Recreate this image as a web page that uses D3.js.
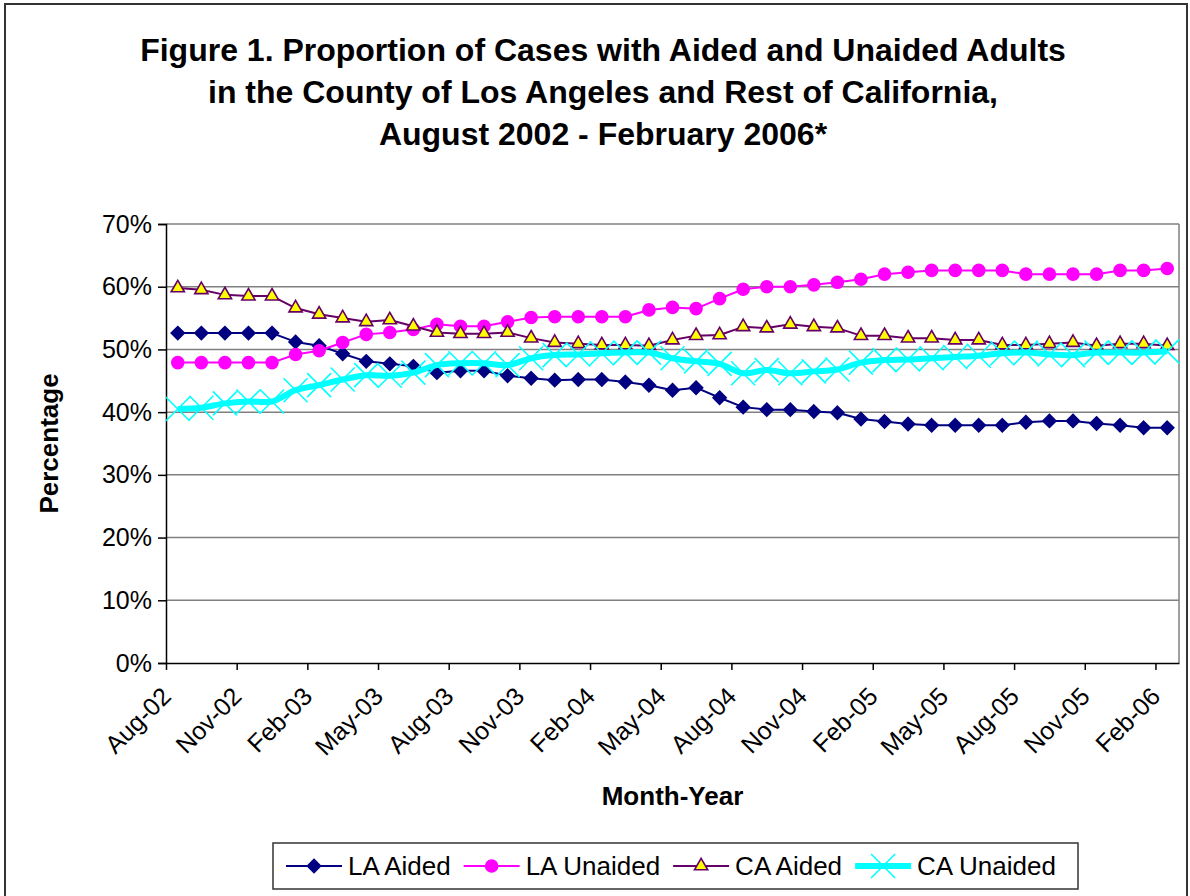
<!DOCTYPE html>
<html>
<head>
<meta charset="utf-8">
<script src="https://cdn.jsdelivr.net/npm/d3@7"></script>
<style>
  body { margin: 0; background: #fff; }
  text { font-family: Arial, "Liberation Sans", sans-serif; }
</style>
</head>
<body>
<div id="chart"></div>
<script>
// month labels, one per category
const months = [
  "Aug-02","Sep-02","Oct-02","Nov-02","Dec-02","Jan-03","Feb-03","Mar-03","Apr-03","May-03",
  "Jun-03","Jul-03","Aug-03","Sep-03","Oct-03","Nov-03","Dec-03","Jan-04","Feb-04","Mar-04",
  "Apr-04","May-04","Jun-04","Jul-04","Aug-04","Sep-04","Oct-04","Nov-04","Dec-04","Jan-05",
  "Feb-05","Mar-05","Apr-05","May-05","Jun-05","Jul-05","Aug-05","Sep-05","Oct-05","Nov-05",
  "Dec-05","Jan-06","Feb-06"
];

// values in percent
const laAided = [52.6,52.6,52.6,52.6,52.6,51.2,50.6,49.3,48.1,47.7,47.3,46.3,46.6,46.6,45.8,
  45.4,45.1,45.2,45.2,44.8,44.3,43.5,43.9,42.3,40.8,40.4,40.4,40.1,39.9,38.9,
  38.5,38.1,37.9,37.9,37.9,37.9,38.4,38.6,38.6,38.2,37.9,37.5,37.5];
const laUnaided = [47.9,47.9,47.9,47.9,47.9,49.2,49.8,51.1,52.4,52.7,53.2,54.0,53.7,53.7,54.4,
  55.1,55.2,55.2,55.2,55.2,56.3,56.7,56.5,58.1,59.6,60.0,60.0,60.3,60.7,61.2,
  62.0,62.3,62.6,62.6,62.6,62.6,62.0,62.0,62.0,62.0,62.6,62.6,62.9];
const caAided = [59.8,59.5,58.7,58.5,58.5,56.6,55.6,55.0,54.4,54.7,53.7,52.7,52.5,52.5,52.7,
  51.8,51.1,50.9,50.7,50.7,50.6,51.5,52.2,52.3,53.6,53.4,54.0,53.6,53.4,52.2,
  52.2,51.8,51.8,51.5,51.5,50.7,50.7,50.9,51.1,50.6,50.9,50.9,50.6];
const caUnaided = [40.5,40.7,41.4,41.7,41.7,43.5,44.3,45.2,45.9,45.8,46.3,47.5,47.8,47.8,47.5,
  48.6,49.1,49.2,49.4,49.5,49.5,48.6,48.1,47.7,46.2,46.7,46.2,46.5,46.8,47.9,
  48.3,48.4,48.6,48.8,49.0,49.4,49.5,49.2,49.1,49.5,49.5,49.5,49.7];

const seriesNames = ["LA Aided", "LA Unaided", "CA Aided", "CA Unaided"];
const yTicks = [0, 10, 20, 30, 40, 50, 60, 70];
const titleLines = [
  "Figure 1. Proportion of Cases with Aided and Unaided Adults",
  "in the County of Los Angeles and Rest of California,",
  "August 2002 - February 2006*"
];

const W = 1190, H = 896;
const plot = {left: 166, right: 1179, top: 224, bottom: 663};

const svg = d3.select("#chart").append("svg")
  .attr("width", W).attr("height", H);

// outer chart border
svg.append("rect")
  .attr("x", 5).attr("y", 4)
  .attr("width", 1182).attr("height", 900)
  .attr("fill", "none").attr("stroke", "#333").attr("stroke-width", 2);

// title
svg.append("g").selectAll("text")
  .data(titleLines).enter().append("text")
  .attr("x", 603).attr("y", (d, i) => 61 + i * 42)
  .attr("text-anchor", "middle")
  .attr("font-size", 32).attr("font-weight", "bold")
  .text(d => d);

// scales: x by category index, categories sit between tick marks
const x = d3.scaleLinear().domain([0, months.length]).range([plot.left, plot.right]);
const y = d3.scaleLinear().domain([0, 70]).range([plot.bottom, plot.top]);
const cx = i => x(i + 0.5);

// gridlines
svg.append("g").selectAll("line")
  .data(yTicks.filter(t => t > 0)).enter().append("line")
  .attr("x1", plot.left).attr("x2", plot.right)
  .attr("y1", d => y(d)).attr("y2", d => y(d))
  .attr("stroke", "#808080").attr("stroke-width", 1.5);

// right border of plot area
svg.append("line")
  .attr("x1", plot.right).attr("x2", plot.right)
  .attr("y1", plot.top).attr("y2", plot.bottom)
  .attr("stroke", "#808080").attr("stroke-width", 1.5);

// y axis
const yAxis = svg.append("g")
  .attr("transform", `translate(${plot.left},0)`)
  .call(d3.axisLeft(y).tickValues(yTicks).tickSize(8).tickPadding(6).tickFormat(d => d + "%"));
yAxis.selectAll("text").attr("font-size", 25).attr("fill", "#000")
  .style("font-family", "Arial, 'Liberation Sans', sans-serif");
yAxis.selectAll("line, path").attr("stroke", "#000").attr("stroke-width", 1.5);

// x axis
const tickIdx = d3.range(0, months.length, 3);
const xAxis = svg.append("g")
  .attr("transform", `translate(0,${plot.bottom})`)
  .call(d3.axisBottom(x).tickValues(tickIdx).tickSize(7).tickSizeOuter(0).tickFormat(i => months[i]));
xAxis.selectAll("line, path").attr("stroke", "#000").attr("stroke-width", 1.5);
xAxis.selectAll("text")
  .attr("font-size", 25).attr("fill", "#000")
  .style("font-family", "Arial, 'Liberation Sans', sans-serif")
  .attr("text-anchor", "end")
  .attr("dy", null)
  .attr("y", 0).attr("x", 0)
  .attr("transform", "translate(6,35) rotate(-45)");

// axis titles
svg.append("text")
  .attr("transform", `translate(58,${(plot.top + plot.bottom) / 2}) rotate(-90)`)
  .attr("text-anchor", "middle")
  .attr("font-size", 26).attr("font-weight", "bold")
  .text("Percentage");
svg.append("text")
  .attr("x", (plot.left + plot.right) / 2).attr("y", 805)
  .attr("text-anchor", "middle")
  .attr("font-size", 26).attr("font-weight", "bold")
  .text("Month-Year");

// series styles
const styles = [
  {values: laAided, stroke: "#000080", width: 2, curve: d3.curveLinear,
   marker: {type: d3.symbolDiamond2, size: 110, fill: "#000080", stroke: "#000080"}},
  {values: laUnaided, stroke: "#ff00ff", width: 2, curve: d3.curveLinear,
   marker: {type: d3.symbolCircle, size: 113, fill: "#ff00ff", stroke: "#ff00ff"}},
  {values: caAided, stroke: "#660066", width: 2, curve: d3.curveLinear,
   marker: {type: d3.symbolTriangle2, size: 125, fill: "#ffff00", stroke: "#660066"}},
  {values: caUnaided, stroke: "#00ffff", width: 6, curve: d3.curveCatmullRom,
   marker: {type: "x", half: 12, stroke: "#00ffff"}}
];

function drawMarker(g, m, px, py) {
  if (m.type === "x") {
    g.append("path")
      .attr("d", `M${px - m.half},${py - m.half}L${px + m.half},${py + m.half}M${px - m.half},${py + m.half}L${px + m.half},${py - m.half}`)
      .attr("stroke", m.stroke).attr("stroke-width", 1.6).attr("fill", "none");
  } else {
    g.append("path")
      .attr("d", d3.symbol().type(m.type).size(m.size)())
      .attr("transform", `translate(${px},${py})`)
      .attr("fill", m.fill).attr("stroke", m.stroke).attr("stroke-width", 1.6);
  }
}

styles.forEach(s => {
  const g = svg.append("g");
  const line = d3.line().x((d, i) => cx(i)).y(d => y(d)).curve(s.curve);
  g.append("path").datum(s.values)
    .attr("d", line)
    .attr("fill", "none").attr("stroke", s.stroke).attr("stroke-width", s.width)
    .attr("stroke-linejoin", "round");
  s.values.forEach((v, i) => drawMarker(g, s.marker, cx(i), y(v)));
});

// legend
const legend = svg.append("g");
legend.append("rect")
  .attr("x", 273).attr("y", 843).attr("width", 805).attr("height", 46)
  .attr("fill", "#fff").attr("stroke", "#333").attr("stroke-width", 1.5);
let lx = 286;
const ly = 866;
styles.forEach((s, k) => {
  legend.append("line")
    .attr("x1", lx).attr("x2", lx + 56).attr("y1", ly).attr("y2", ly)
    .attr("stroke", s.stroke).attr("stroke-width", s.width);
  drawMarker(legend, s.marker, lx + 28, ly);
  const t = legend.append("text")
    .attr("x", lx + 62).attr("y", ly + 9)
    .attr("font-size", 26)
    .text(seriesNames[k]);
  lx = lx + 62 + t.node().getComputedTextLength() + 13;
});
</script>
</body>
</html>
